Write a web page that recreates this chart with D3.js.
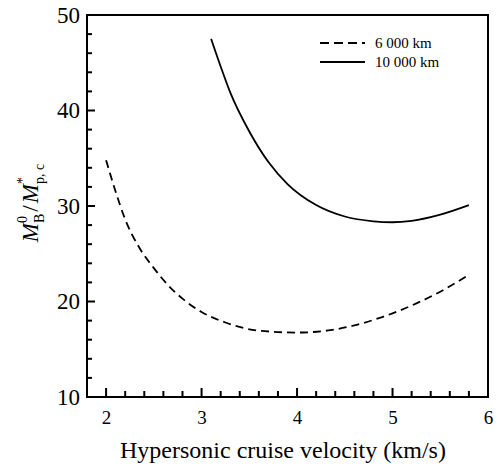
<!DOCTYPE html>
<html>
<head>
<meta charset="utf-8">
<script src="https://cdn.jsdelivr.net/npm/d3@7"></script>
<style>
  body { margin: 0; background: #fff; }
  svg { display: block; font-family: "Liberation Serif", "Times New Roman", serif; }
</style>
</head>
<body>
<div id="chart"></div>
<script>
// Velocity (km/s) and M_B^0 / M_p,c^* for two ranges
const vel6000 = [2.0, 2.1, 2.2, 2.35, 2.5, 2.65, 2.8, 3.0, 3.25, 3.6, 4.0, 4.35, 4.6, 4.9, 5.25, 5.55, 5.8];
const val6000 = [34.8, 31.5, 28.6, 25.6, 23.5, 21.7, 20.3, 18.9, 17.8, 16.95, 16.75, 17.0, 17.5, 18.4, 19.8, 21.3, 22.8];
const vel10000 = [3.1, 3.2, 3.3, 3.5, 3.7, 3.9, 4.2, 4.5, 4.8, 5.0, 5.2, 5.5, 5.8];
const val10000 = [47.5, 44.6, 41.9, 37.8, 34.6, 32.3, 30.1, 28.9, 28.4, 28.3, 28.45, 29.1, 30.1];

const xTicks = [2, 3, 4, 5, 6];
const yTicks = [10, 20, 30, 40, 50];
const seriesNames = ["6 000 km", "10 000 km"];

const width = 497, height = 466;
const margin = { top: 15, right: 9, bottom: 69, left: 87 };

const svg = d3.select("#chart").append("svg")
  .attr("width", width)
  .attr("height", height);

const x = d3.scaleLinear().domain([1.8, 6]).range([margin.left, width - margin.right]);
const y = d3.scaleLinear().domain([10, 50]).range([height - margin.bottom, margin.top]);

// tick marks point inward, minor every 0.2 / 2
const xMinor = d3.range(1.8, 6.001, 0.2).filter(v => Math.abs(v - Math.round(v)) > 0.01);
const yMinor = d3.range(10, 50.001, 2).filter(v => v % 10 !== 0);
const tickG = svg.append("g").attr("stroke", "#000").attr("stroke-width", 2);

tickG.selectAll(".xt")
  .data([...xMinor.map(v => [v, 6]), ...xTicks.map(v => [v, 9])])
  .join("line")
  .attr("x1", d => x(d[0])).attr("x2", d => x(d[0]))
  .attr("y1", y(10)).attr("y2", d => y(10) - d[1]);

tickG.selectAll(".yt")
  .data([...yMinor.map(v => [v, 5]), ...yTicks.map(v => [v, 8])])
  .join("line")
  .attr("y1", d => y(d[0])).attr("y2", d => y(d[0]))
  .attr("x1", x(1.8)).attr("x2", d => x(1.8) + d[1]);

// tick labels from d3 axes
const gx = svg.append("g").attr("transform", `translate(0,${y(10)})`)
  .call(d3.axisBottom(x).tickValues(xTicks).tickSize(0).tickPadding(14).tickFormat(d3.format("d")));
gx.select(".domain").remove();
gx.selectAll("text").attr("font-size", 19).attr("fill", "#000").attr("font-family", "Liberation Serif");

const gy = svg.append("g").attr("transform", `translate(${x(1.8)},0)`)
  .call(d3.axisLeft(y).tickValues(yTicks).tickSize(0).tickPadding(7).tickFormat(d3.format("d")));
gy.select(".domain").remove();
gy.selectAll("text").attr("font-size", 23).attr("fill", "#000").attr("font-family", "Liberation Serif");

// frame
svg.append("rect")
  .attr("x", x(1.8)).attr("y", y(50))
  .attr("width", x(6) - x(1.8)).attr("height", y(10) - y(50))
  .attr("fill", "none").attr("stroke", "#000").attr("stroke-width", 2);

// curves
const line = d3.line().x(d => x(d[0])).y(d => y(d[1])).curve(d3.curveMonotoneX);

svg.append("path")
  .datum(d3.zip(vel6000, val6000))
  .attr("fill", "none").attr("stroke", "#000").attr("stroke-width", 1.8)
  .attr("stroke-dasharray", "8,5")
  .attr("d", line);

svg.append("path")
  .datum(d3.zip(vel10000, val10000))
  .attr("fill", "none").attr("stroke", "#000").attr("stroke-width", 1.8)
  .attr("d", line);

// legend
const legend = svg.append("g");
[[43, "9,5"], [62, null]].forEach(([ly, dash], i) => {
  legend.append("line")
    .attr("x1", 320).attr("x2", 365).attr("y1", ly).attr("y2", ly)
    .attr("stroke", "#000").attr("stroke-width", 2.2)
    .attr("stroke-dasharray", dash);
  legend.append("text")
    .attr("x", 375).attr("y", ly + 5)
    .attr("font-size", 15)
    .text(seriesNames[i]);
});

// x axis title
svg.append("text")
  .attr("x", 283).attr("y", 458)
  .attr("text-anchor", "middle")
  .attr("font-size", 24)
  .text("Hypersonic cruise velocity (km/s)");

// y axis title: M_B^0 / M_p,c^*
const yt = svg.append("g").attr("transform", "translate(38,203) rotate(-90)");
const parts = [];
let cx = 0;
function piece(txt, size, dy, italic, advance) {
  const t = yt.append("text").attr("x", cx).attr("y", dy)
    .attr("font-size", size)
    .attr("font-style", italic ? "italic" : "normal")
    .text(txt);
  const w = t.node().getComputedTextLength();
  parts.push(t);
  if (advance) cx += w;
  return w;
}
piece("M", 23, 0, true, true);
const w1 = piece("B", 14, 6, false, false);
const w2 = piece("0", 14, -11, false, false);
cx += Math.max(w1, w2) + 2;
piece("/", 23, 0, false, true);
cx += 2;
piece("M", 23, 0, true, true);
const w3 = piece("p, c", 14, 6, false, false);
const w4 = piece("*", 14, -11, false, false);
cx += Math.max(w3, w4);
// center the whole label
parts.forEach(t => t.attr("x", +t.attr("x") - cx / 2));
</script>
</body>
</html>
